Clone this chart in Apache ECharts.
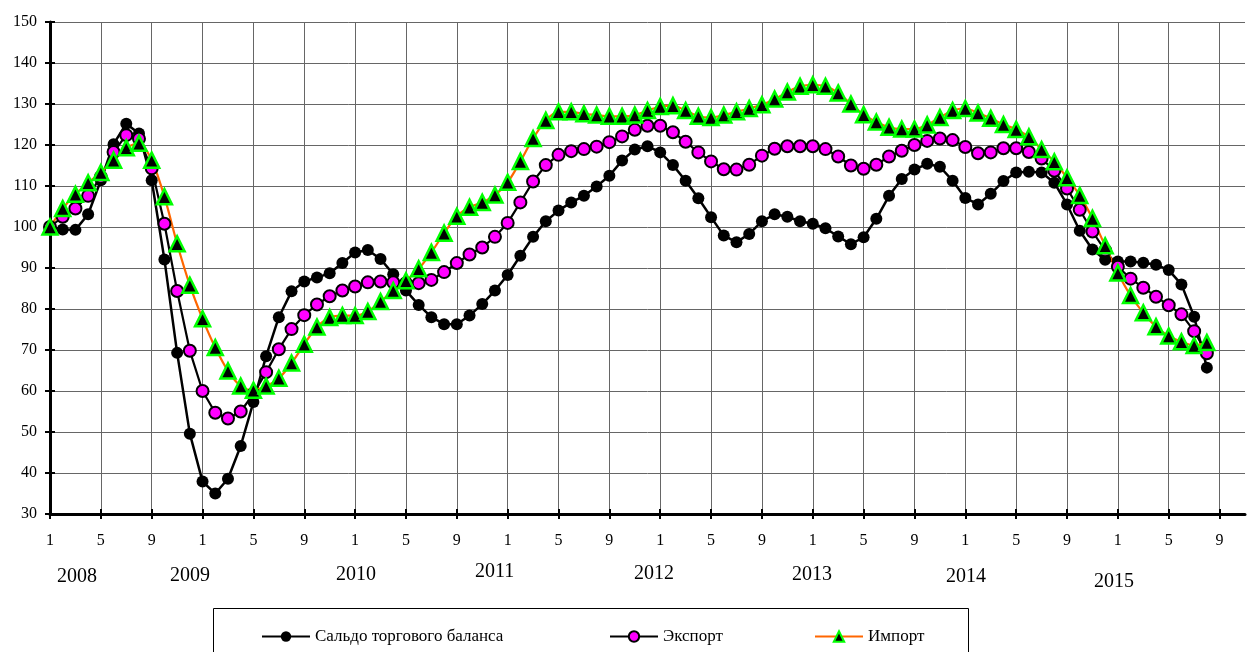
<!DOCTYPE html>
<html>
<head>
<meta charset="utf-8">
<script src="https://cdn.jsdelivr.net/npm/echarts@6/dist/echarts.min.js"></script>
<style>
html,body{margin:0;padding:0;background:#fff;}
#chart{width:1250px;height:652px;}
</style>
</head>
<body>
<div id="chart"></div>
<script>
// ---- Data (monthly, 2008-01 .. 2015-08) ----
const seriesNames = ['Сальдо торгового баланса', 'Экспорт', 'Импорт'];

const saldo = [
  100, 99.4, 99.3, 103.1, 111.4, 120.2, 125.2, 122.8, 111.4, 92.1, 69.3, 49.6,
  37.9, 35.0, 38.6, 46.6, 57.3, 68.5, 78.0, 84.3, 86.7, 87.7, 88.7, 91.2,
  93.8, 94.4, 92.2, 88.5, 84.5, 81.0, 78.0, 76.3, 76.3, 78.4, 81.2, 84.5,
  88.3, 93.0, 97.6, 101.4, 104.0, 106.0, 107.6, 109.9, 112.5, 116.2, 118.9, 119.7,
  118.2, 115.1, 111.3, 107.0, 102.4, 97.9, 96.3, 98.3, 101.4, 103.1, 102.5, 101.4,
  100.8, 99.7, 97.7, 95.8, 97.5, 102.0, 107.6, 111.7, 114.0, 115.4, 114.7, 111.3,
  107.1, 105.5, 108.1, 111.2, 113.3, 113.5, 113.3, 110.8, 105.5, 99.1, 94.5, 92.0,
  91.6, 91.6, 91.3, 90.8, 89.5, 86.0, 78.1, 65.7
];

const exportIdx = [
  100, 102.5, 104.5, 107.6, 112.2, 118.3, 122.4, 121.5, 114.3, 100.8, 84.4, 69.8,
  60.0, 54.7, 53.3, 55.0, 59.3, 64.6, 70.2, 75.1, 78.5, 81.1, 83.1, 84.5,
  85.5, 86.5, 86.7, 86.5, 86.3, 86.3, 87.1, 89.0, 91.2, 93.3, 95.0, 97.6,
  101.0, 106.0, 111.1, 115.1, 117.6, 118.5, 119.0, 119.6, 120.7, 122.1, 123.7, 124.7,
  124.7, 123.1, 120.8, 118.2, 116.0, 114.1, 114.0, 115.2, 117.4, 119.1, 119.7, 119.7,
  119.7, 119.0, 117.2, 115.0, 114.2, 115.2, 117.2, 118.6, 120.0, 121.0, 121.6, 121.2,
  119.5, 118.0, 118.2, 119.2, 119.2, 118.3, 116.7, 113.7, 109.4, 104.2, 98.9, 94.3,
  90.3, 87.4, 85.2, 83.0, 80.9, 78.7, 74.6, 69.2
];

const importIdx = [
  100, 104.5, 108.0, 110.8, 113.3, 116.3, 119.3, 120.4, 116.3, 107.4, 95.9, 85.8,
  77.6, 70.6, 64.9, 61.2, 60.2, 61.2, 63.1, 66.8, 71.4, 75.6, 77.9, 78.4,
  78.4, 79.4, 81.8, 84.5, 86.9, 89.8, 93.8, 98.5, 102.6, 104.8, 106.0, 107.8,
  110.9, 116.0, 121.6, 126.0, 128.1, 128.1, 127.6, 127.3, 127.0, 127.0, 127.3, 128.4,
  129.4, 129.6, 128.4, 127.0, 126.7, 127.3, 128.1, 128.9, 129.8, 131.2, 132.9, 134.3,
  134.7, 134.3, 132.7, 130.0, 127.4, 125.6, 124.3, 123.9, 123.9, 124.9, 126.7, 128.4,
  128.9, 127.8, 126.5, 125.0, 123.8, 122.0, 118.9, 115.9, 112.0, 107.7, 102.1, 95.4,
  88.8, 83.3, 79.1, 75.7, 73.4, 72.0, 71.1, 71.8
];

// ---- Tick labels ----
const monthSlots = 95; // axis runs a little past 2015-09
const lastLabelled = 92; // 2015-09
const monthLabels = [];
for (let i = 0; i < monthSlots; i++) monthLabels.push(i <= lastLabelled ? String((i % 12) + 1) : '');
const yearLabels = ['2008', '2009', '2010', '2011', '2012', '2013', '2014', '2015'];

// ---- Layout for the free-floating year captions (pixels) ----
const yearLabelPos = [[57, 567], [170, 566], [336, 565], [475, 562], [634, 564], [792, 565], [946, 567], [1094, 572]];

const FONT = '"Liberation Serif", "DejaVu Serif", serif';

const chart = echarts.init(document.getElementById('chart'), null, {renderer: 'canvas'});

const graphics = yearLabels.map((t, k) => ({
  type: 'text', left: yearLabelPos[k][0], top: yearLabelPos[k][1], silent: true,
  style: {text: t, fill: '#000', font: '20px ' + FONT}
}));
graphics.push({
  type: 'rect', left: 213, top: 608, silent: true, z: -1,
  shape: {width: 755, height: 60},
  style: {fill: '#fff', stroke: '#000', lineWidth: 1}
});

const legendBase = {
  top: 623, itemWidth: 48, itemHeight: 13, itemGap: 0,
  textStyle: {fontFamily: FONT, fontSize: 17, color: '#000'},
  selectedMode: false
};

const option = {
  animation: false,
  backgroundColor: '#fff',
  grid: {left: 50, right: 5, top: 22, bottom: 138, containLabel: false},
  graphic: graphics,
  legend: [
    Object.assign({}, legendBase, {left: 256, data: [seriesNames[0]]}),
    Object.assign({}, legendBase, {left: 604, data: [seriesNames[1]]}),
    Object.assign({}, legendBase, {left: 809, data: [seriesNames[2]]})
  ],
  xAxis: [{
    type: 'category', data: monthLabels, boundaryGap: false,
    axisLine: {lineStyle: {color: '#000', width: 3}},
    axisTick: {interval: 3, length: 5, lineStyle: {color: '#000', width: 2}},
    axisLabel: {interval: 3, margin: 19, color: '#000', fontFamily: FONT, fontSize: 16},
    splitLine: {show: true, interval: 3, lineStyle: {color: '#666', width: 1}}
  }, {
    type: 'category', data: monthLabels, boundaryGap: false, position: 'bottom',
    axisLine: {show: false},
    axisTick: {interval: 3, inside: true, length: 5, lineStyle: {color: '#000', width: 2}},
    axisLabel: {show: false},
    splitLine: {show: false}
  }],
  yAxis: [{
    type: 'value', min: 30, max: 150, interval: 10,
    axisLine: {show: true, lineStyle: {color: '#000', width: 3}},
    axisTick: {show: true, length: 5, lineStyle: {color: '#000', width: 2}},
    axisLabel: {margin: 13, color: '#000', fontFamily: FONT, fontSize: 16},
    splitLine: {show: true, lineStyle: {color: '#666', width: 1}}
  }, {
    type: 'value', min: 30, max: 150, interval: 10, position: 'left',
    axisLine: {show: false},
    axisTick: {show: true, inside: true, length: 5, lineStyle: {color: '#000', width: 2}},
    axisLabel: {show: false},
    splitLine: {show: false}
  }],
  series: [{
    name: seriesNames[0], type: 'line', data: saldo,
    symbol: 'circle', symbolSize: 12, showAllSymbol: true,
    itemStyle: {color: '#000'},
    lineStyle: {color: '#000', width: 2.5}
  }, {
    name: seriesNames[1], type: 'line', data: exportIdx,
    symbol: 'circle', symbolSize: 12, showAllSymbol: true,
    itemStyle: {color: '#FF00FF', borderColor: '#000', borderWidth: 2},
    lineStyle: {color: '#000', width: 2.2}
  }, {
    name: seriesNames[2], type: 'line', data: importIdx,
    symbol: 'triangle', symbolSize: 15, smooth: 0.3, showAllSymbol: true,
    itemStyle: {color: '#000', borderColor: '#00FF00', borderWidth: 2.5},
    lineStyle: {color: '#FF6600', width: 2.2}
  }]
};

chart.setOption(option);
</script>
</body>
</html>
